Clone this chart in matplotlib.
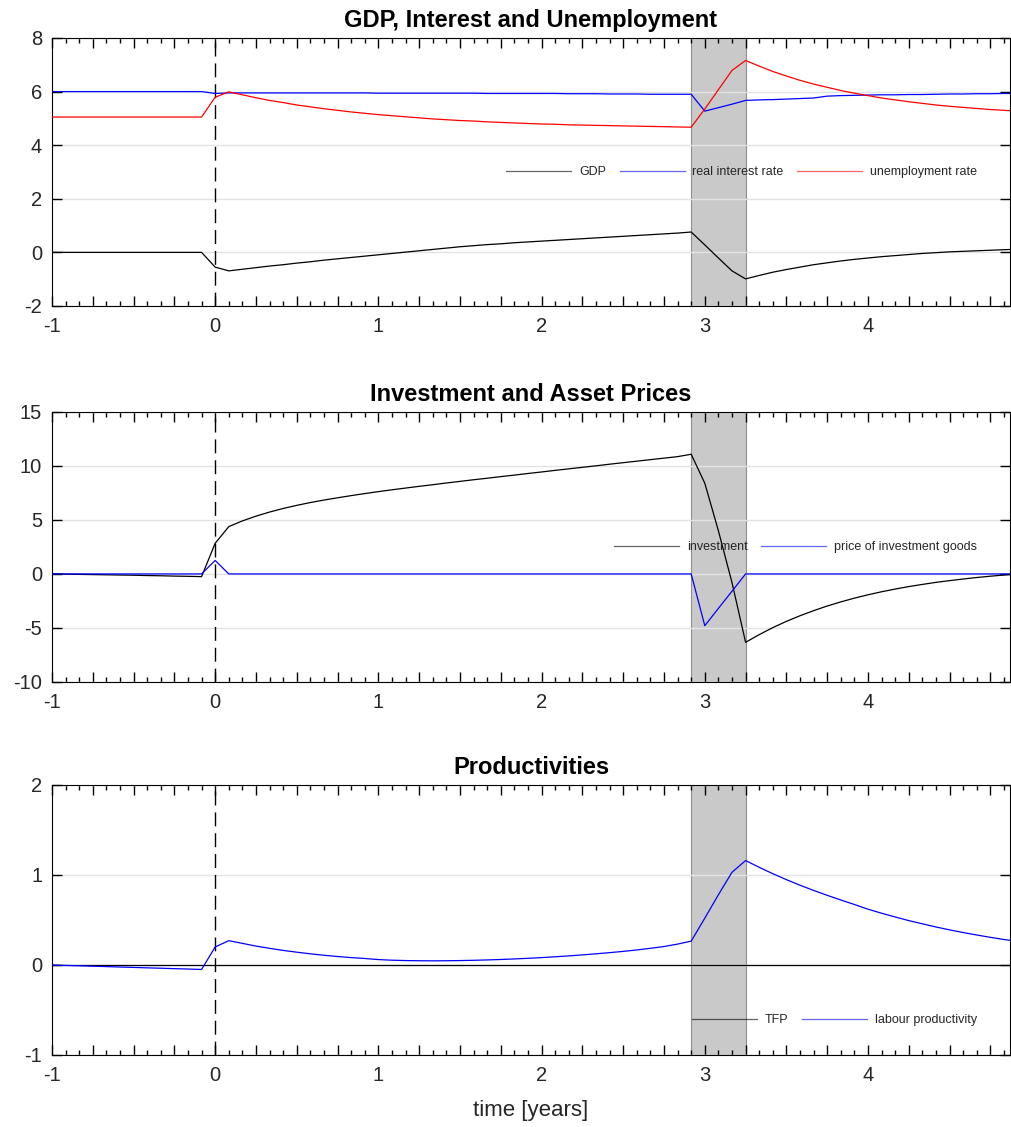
import numpy as np
import matplotlib
matplotlib.use('Agg')
import matplotlib.pyplot as plt
from matplotlib.ticker import MultipleLocator, FuncFormatter

plt.rcParams['font.family'] = ['Liberation Sans', 'DejaVu Sans']
plt.rcParams['axes.unicode_minus'] = False

# monthly time axis, one year before the shock to ~5 years after
months = np.arange(-12, 60)
t = months / 12.0

# shaded period (second shock)
shock_start, shock_end = 35 / 12, 39 / 12

# --- panel 1: GDP, interest, unemployment ---
gdp = [
    0.00, 0.00, 0.00, 0.00, 0.00, 0.00, 0.00, 0.00, 0.00, 0.00, 0.00, 0.00,
    -0.55, -0.69, -0.63, -0.57, -0.51, -0.46, -0.40, -0.35, -0.29, -0.24, -0.19, -0.14,
    -0.09, -0.04, 0.01, 0.06, 0.11, 0.16, 0.21, 0.25, 0.29, 0.32, 0.36, 0.39,
    0.42, 0.45, 0.48, 0.51, 0.54, 0.57, 0.60, 0.63, 0.66, 0.69, 0.72, 0.76,
    0.28, -0.21, -0.69, -0.99, -0.86, -0.74, -0.64, -0.55, -0.46, -0.39, -0.32, -0.26,
    -0.21, -0.16, -0.12, -0.08, -0.04, -0.01, 0.02, 0.04, 0.06, 0.08, 0.10, 0.12,
]
real_rate = [
    6.00, 6.00, 6.00, 6.00, 6.00, 6.00, 6.00, 6.00, 6.00, 6.00, 6.00, 6.00,
    5.93, 5.95, 5.95, 5.95, 5.95, 5.95, 5.95, 5.95, 5.95, 5.95, 5.95, 5.95,
    5.94, 5.94, 5.94, 5.94, 5.94, 5.94, 5.94, 5.94, 5.93, 5.93, 5.93, 5.93,
    5.93, 5.93, 5.92, 5.92, 5.92, 5.91, 5.91, 5.91, 5.90, 5.90, 5.90, 5.90,
    5.27, 5.40, 5.53, 5.67, 5.69, 5.70, 5.72, 5.74, 5.76, 5.83, 5.85, 5.86,
    5.87, 5.88, 5.88, 5.89, 5.89, 5.90, 5.91, 5.91, 5.92, 5.92, 5.93, 5.93,
]
unemployment = [
    5.05, 5.05, 5.05, 5.05, 5.05, 5.05, 5.05, 5.05, 5.05, 5.05, 5.05, 5.05,
    5.79, 5.99, 5.88, 5.77, 5.67, 5.59, 5.50, 5.43, 5.36, 5.30, 5.24, 5.19,
    5.14, 5.10, 5.06, 5.02, 4.98, 4.95, 4.92, 4.90, 4.87, 4.85, 4.83, 4.81,
    4.79, 4.78, 4.76, 4.75, 4.74, 4.73, 4.72, 4.71, 4.70, 4.69, 4.68, 4.67,
    5.35, 6.07, 6.79, 7.16, 6.95, 6.75, 6.58, 6.42, 6.28, 6.16, 6.04, 5.94,
    5.85, 5.76, 5.69, 5.62, 5.56, 5.50, 5.45, 5.41, 5.37, 5.33, 5.30, 5.27,
]

# --- panel 2: investment and asset prices ---
investment = [
    0.00, -0.02, -0.04, -0.06, -0.08, -0.10, -0.12, -0.15, -0.17, -0.20, -0.22, -0.25,
    2.84, 4.38, 4.91, 5.35, 5.73, 6.06, 6.35, 6.61, 6.84, 7.05, 7.25, 7.44,
    7.62, 7.79, 7.95, 8.11, 8.26, 8.42, 8.57, 8.72, 8.86, 9.01, 9.15, 9.30,
    9.44, 9.59, 9.73, 9.87, 10.01, 10.16, 10.30, 10.44, 10.58, 10.72, 10.86, 11.08,
    8.40, 4.00, -0.80, -6.33, -5.62, -4.97, -4.39, -3.87, -3.40, -2.97, -2.59, -2.24,
    -1.93, -1.65, -1.40, -1.17, -0.97, -0.78, -0.62, -0.47, -0.33, -0.21, -0.10, 0.00,
]
price_inv = [
    0.00, 0.00, 0.00, 0.00, 0.00, 0.00, 0.00, 0.00, 0.00, 0.00, 0.00, 0.00,
    1.25, 0.00, 0.00, 0.00, 0.00, 0.00, 0.00, 0.00, 0.00, 0.00, 0.00, 0.00,
    0.00, 0.00, 0.00, 0.00, 0.00, 0.00, 0.00, 0.00, 0.00, 0.00, 0.00, 0.00,
    0.00, 0.00, 0.00, 0.00, 0.00, 0.00, 0.00, 0.00, 0.00, 0.00, 0.00, 0.00,
    -4.79, -3.19, -1.60, 0.00, 0.00, 0.00, 0.00, 0.00, 0.00, 0.00, 0.00, 0.00,
    0.00, 0.00, 0.00, 0.00, 0.00, 0.00, 0.00, 0.00, 0.00, 0.00, 0.00, 0.00,
]

# --- panel 3: productivities ---
tfp = [0.0] * 72
labour_prod = [
    0.000, -0.005, -0.009, -0.014, -0.018, -0.023, -0.027, -0.032, -0.036, -0.041, -0.045, -0.050,
    0.200, 0.270, 0.240, 0.210, 0.185, 0.162, 0.142, 0.124, 0.108, 0.094, 0.082, 0.072,
    0.060, 0.053, 0.049, 0.047, 0.046, 0.047, 0.049, 0.052, 0.056, 0.061, 0.067, 0.074,
    0.082, 0.091, 0.101, 0.112, 0.124, 0.137, 0.151, 0.167, 0.185, 0.205, 0.232, 0.265,
    0.520, 0.780, 1.030, 1.160, 1.085, 1.014, 0.948, 0.886, 0.828, 0.774, 0.722, 0.672,
    0.620, 0.575, 0.533, 0.493, 0.457, 0.422, 0.390, 0.360, 0.333, 0.307, 0.283, 0.262,
]


def year_label(v, pos):
    # only whole years get a label, quarter ticks stay blank
    return f'{v:.0f}' if abs(v - round(v)) < 1e-6 else ''


def style_axis(ax, ylim, ystep, title):
    ax.set_xlim(-1, 4.87)
    ax.set_ylim(*ylim)
    ax.axvspan(shock_start, shock_end, facecolor='#c9c9c9', edgecolor='#8f8f8f', lw=0.8, zorder=0)
    ax.axvline(0, color='k', lw=1, dashes=(10, 5), zorder=1)
    ax.yaxis.set_major_locator(MultipleLocator(ystep))
    ax.xaxis.set_major_locator(MultipleLocator(0.25))
    ax.xaxis.set_minor_locator(MultipleLocator(1 / 12))
    ax.xaxis.set_major_formatter(FuncFormatter(year_label))
    ax.grid(axis='y', color='#e3e3e3', lw=1)
    ax.set_axisbelow(True)
    ax.tick_params(which='both', direction='in', top=True, right=True,
                   labelsize=14.5, labelcolor='#262626', width=1)
    ax.tick_params(which='major', length=7)
    ax.tick_params(which='minor', length=3.5)
    ax.tick_params(axis='x', which='major', pad=8)
    ax.tick_params(axis='y', which='major', pad=7)
    ax.set_title(title, fontsize=17, fontweight='bold', pad=8)


def add_legend(ax, y):
    leg = ax.legend(ncol=3, loc='center right', bbox_to_anchor=(0.977, y), frameon=False,
                    fontsize=9, handlelength=5.2, handletextpad=0.6, columnspacing=1.1)
    for h in leg.get_lines():
        h.set_alpha(0.6)
    for txt in leg.get_texts():
        txt.set_color('#262626')


fig = plt.figure(figsize=(10.11, 11.27), dpi=100)
left, width = 0.0514, 0.9476

ax1 = fig.add_axes([left, 0.7285, width, 0.2378])
ax1.plot(t, gdp, color='k', lw=0.9, label='GDP', zorder=3)
ax1.plot(t, real_rate, color='#0000ff', lw=0.9, label='real interest rate', zorder=3)
ax1.plot(t, unemployment, color='#ff0000', lw=0.9, label='unemployment rate', zorder=3)
style_axis(ax1, (-2, 8), 2, 'GDP, Interest and Unemployment')
add_legend(ax1, 0.5)

ax2 = fig.add_axes([left, 0.3949, width, 0.2396])
ax2.plot(t, investment, color='k', lw=0.9, label='investment', zorder=3)
ax2.plot(t, price_inv, color='#0000ff', lw=0.9, label='price of investment goods', zorder=3)
style_axis(ax2, (-10, 15), 5, 'Investment and Asset Prices')
add_legend(ax2, 0.5)

ax3 = fig.add_axes([left, 0.0639, width, 0.2396])
ax3.plot(t, tfp, color='k', lw=0.9, label='TFP', zorder=3)
ax3.plot(t, labour_prod, color='#0000ff', lw=0.9, label='labour productivity', zorder=3)
style_axis(ax3, (-1, 2), 1, 'Productivities')
add_legend(ax3, 0.13)
ax3.set_xlabel('time [years]', fontsize=16, color='#262626', labelpad=11)

fig.savefig('out.png', dpi=100)
